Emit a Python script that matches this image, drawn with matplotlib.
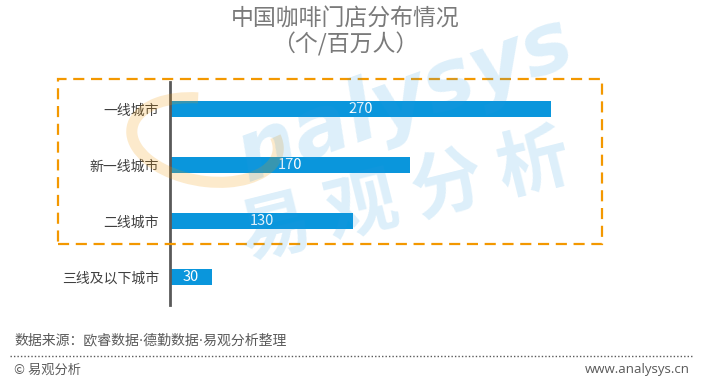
import matplotlib.pyplot as plt
from matplotlib.patches import Rectangle, Arc

plt.rcParams['font.family'] = ['Noto Sans CJK SC', 'DejaVu Sans']

# 数据
categorias = ['一线城市', '新一线城市', '二线城市', '三线及以下城市']
valores = [270, 170, 130, 30]

titulo = '中国咖啡门店分布情况\n（个/百万人）'
fonte = '数据来源：欧睿数据·德勤数据·易观分析整理'

W, H = 714, 384
fig = plt.figure(figsize=(W / 100, H / 100), dpi=100)
fig.patch.set_facecolor('white')

ax = fig.add_axes([170 / W, (H - 305) / H, 430 / W, 223 / H])
y = list(range(len(categorias)))
ax.barh(y, valores, height=0.29, color='#0a96dc', zorder=2)
for i, v in zip(y, valores):
    ax.text(v / 2, i, str(v), color='white', fontsize=10.5, ha='center', va='center', zorder=3)

ax.set_ylim(3.5, -0.482)
ax.set_xlim(0, 430 / 1.411)
ax.set_yticks(y)
ax.set_yticklabels(categorias, fontsize=10, color='#404040')
ax.tick_params(axis='y', length=0, pad=8)
ax.set_xticks([])
for lado in ['top', 'right', 'bottom']:
    ax.spines[lado].set_visible(False)
ax.spines['left'].set_color('#595959')
ax.spines['left'].set_linewidth(2)

# caixa tracejada
caixa = Rectangle((58 / W, 1 - 244 / H), 544 / W, 165 / H, transform=fig.transFigure,
                  fill=False, edgecolor='#f39800', linewidth=1.6, linestyle=(0, (5, 3)), zorder=4)
fig.add_artist(caixa)

# marca d'água (semitransparente, por cima)
fig.text(405 / W, 1 - 100 / H, 'nalysys', fontsize=60, color='#2a9be0', alpha=0.16, style='italic',
         fontweight='bold', rotation=20, ha='center', va='center', zorder=10, family='DejaVu Sans')
fig.text(405 / W, 1 - 198 / H, '易 观 分 析', fontsize=52, color='#2a9be0', alpha=0.16,
         fontweight='bold', rotation=14, ha='center', va='center', zorder=10)
arco = Arc((205 / W, 1 - 140 / H), 135 / W, 90 / H, angle=35, theta1=60, theta2=330,
           transform=fig.transFigure, color='#f39800', alpha=0.2, linewidth=8, zorder=10)
fig.add_artist(arco)

fig.text(345 / W, 1 - 32 / H, titulo, fontsize=16.5, color='#7a7a7a', ha='center',
         va='center', linespacing=1.1, fontweight='medium')

fig.text(14 / W, 1 - 340 / H, fonte, fontsize=10, color='#595959', ha='left', va='center',
         family=['DejaVu Sans', 'Noto Sans CJK SC'])
fig.add_artist(plt.Line2D([10 / W, 692 / W], [1 - 356 / H, 1 - 356 / H], transform=fig.transFigure,
                          color='#595959', linewidth=1, linestyle=(0, (1, 1.5))))
fig.text(14 / W, 1 - 370 / H, '© 易观分析', fontsize=9.5, color='#595959', ha='left', va='center')
fig.text(690 / W, 1 - 370 / H, 'www.analysys.cn', fontsize=9.5, color='#595959', ha='right',
         va='center', family='Open Sans')

fig.savefig('out.png', dpi=100)
